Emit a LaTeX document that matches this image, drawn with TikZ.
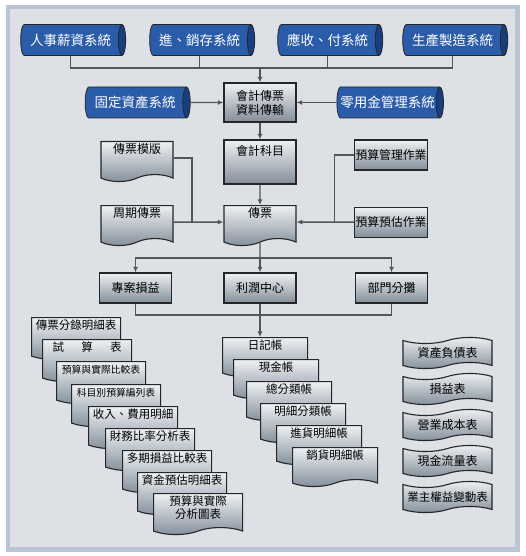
\documentclass[tikz,border=0pt]{standalone}
\usepackage{fontspec}
\setmainfont{Noto Sans CJK TC}
\usepackage{xcolor}
\usepackage{tikz}
\usetikzlibrary{arrows.meta,shapes.geometric,shapes.symbols}

\definecolor{framebg}{HTML}{B9C5D6}
\definecolor{panelbg}{HTML}{DDE0E5}
\definecolor{pillblue}{HTML}{2B5CAA}
\definecolor{pilldark}{HTML}{173E7E}
\definecolor{silverhi}{HTML}{EEF1F4}
\definecolor{silvermid}{HTML}{C3CAD2}
\definecolor{silverlo}{HTML}{838E9A}
\definecolor{linegray}{HTML}{555555}

\begin{document}
\begin{tikzpicture}[x=1pt,y=1pt,
  pill/.style={cylinder, shape border rotate=0, aspect=0.5, draw=black!85, thick,
    cylinder uses custom fill, cylinder body fill=pillblue, cylinder end fill=pilldark,
    minimum width=31pt, minimum height=105pt, inner sep=1pt, text=white,
    font=\fontsize{13.5}{15}\selectfont},
  box/.style={rectangle, draw=black!85, line width=1.1pt, top color=silverhi,
    middle color=silvermid, bottom color=silverlo, minimum width=72pt,
    minimum height=30pt, inner sep=1pt, align=center, font=\fontsize{12}{14}\selectfont},
  doc/.style={tape, tape bend top=none, tape bend height=7pt, draw=black!85,
    line width=1.1pt, top color=silverhi, middle color=silvermid, bottom color=silverlo,
    minimum width=72pt, inner sep=3pt, text height=9pt, text depth=18pt,
    anchor=north, font=\fontsize{12}{14}\selectfont},
  card/.style={doc, minimum width=89pt, anchor=north west, text depth=20pt,
    font=\fontsize{11.5}{13}\selectfont},
  ledger/.style={card, minimum width=85pt, text depth=17pt},
  flag/.style={tape, tape bend height=6pt, draw=black!85, line width=1.1pt,
    top color=silverhi, middle color=silvermid, bottom color=silverlo,
    minimum width=89pt, minimum height=31pt, inner sep=1pt,
    font=\fontsize{12}{14}\selectfont},
  small/.style={font=\fontsize{9.8}{11}\selectfont},
  line/.style={draw=linegray, line width=1.4pt},
  arrow/.style={line, -{Latex[length=2mm,width=1.8mm]}}
]
\useasboundingbox (0,-556) rectangle (525,0);
\fill[framebg] (6,-552) rectangle (520,-5);
\fill[panelbg] (10,-547) rectangle (515,-9);

\node[pill] (hr) at (70.5,-40) {人事薪資系統};
\node[pill] (inv) at (199.5,-40) {進、銷存系統};
\node[pill] (ar) at (327.5,-40) {應收、付系統};
\node[pill] (mfg) at (452.5,-40) {生產製造系統};

\node[box, minimum height=39pt] (xfer) at (260,-102.5) {會計傳票\\資料傳輸};
\node[pill] (fa) at (135,-102.5) {固定資產系統};
\node[pill] (petty) at (387.5,-102.5) {零用金管理系統};

\node[box, minimum height=44pt, text height=9pt, text depth=22pt] (coa) at (260,-162) {會計科目};
\node[doc] (tmpl) at (137,-141) {傳票模版};
\node[box, font=\fontsize{11.8}{13}\selectfont] (bm) at (391,-155) {預算管理作業};
\node[doc] (cyc) at (137,-205) {周期傳票};
\node[doc] (voucher) at (260,-205) {傳票};
\node[box, font=\fontsize{11.8}{13}\selectfont] (be) at (voucher -| bm) {預算預估作業};

\node[box] (proj) at (135.5,-288) {專案損益};
\node[box] (profit) at (260,-288) {利潤中心};
\node[box] (dept) at (391.5,-288) {部門分攤};

\node[card] (r1) at (31,-317) {傳票分錄明細表};
\node[card] (r2) at (42,-339) {試\hspace{1.5em}算\hspace{1.5em}表};
\node[card, small] (r3) at (56,-361) {預算與實際比較表};
\node[card, small] (r4) at (71,-384) {科目別預算編列表};
\node[card] (r5) at (88,-406) {收入、費用明細};
\node[card] (r6) at (105,-428) {財務比率分析表};
\node[card] (r7) at (122,-450) {多期損益比較表};
\node[card] (r8) at (137,-472) {資金預估明細表};
\node[card, align=center, text height=22pt, text depth=6pt] (r9) at (153,-493) {預算與實際\\分析圖表};

\node[ledger] (j1) at (222,-337) {日記帳};
\node[ledger] (j2) at (233,-359) {現金帳};
\node[ledger] (j3) at (246,-381) {總分類帳};
\node[ledger] (j4) at (260,-403) {明細分類帳};
\node[ledger] (j5) at (276,-425) {進貨明細帳};
\node[ledger] (j6) at (292,-447) {銷貨明細帳};

\node[flag] (s1) at (447.5,-353) {資產負債表};
\node[flag] (s2) at (447.5,-389) {損益表};
\node[flag] (s3) at (447.5,-425) {營業成本表};
\node[flag] (s4) at (447.5,-461) {現金流量表};
\node[flag, font=\fontsize{11.5}{13}\selectfont] (s5) at (447.5,-497) {業主權益變動表};

\coordinate (bus1) at (260,-68);
\draw[line] (hr.south) |- (bus1);
\draw[line] (inv.south) |- (bus1);
\draw[line] (ar.south) |- (bus1);
\draw[line] (mfg.south) |- (bus1);
\draw[arrow] (bus1) -- (xfer);
\draw[arrow] (fa) -- (xfer);
\draw[arrow] (petty) -- (xfer);
\draw[arrow] (xfer) -- (coa);
\draw[arrow] (coa) -- (voucher);

\path (cyc) -- (voucher) coordinate[pos=0.37] (jl);
\path (be) -- (voucher) coordinate[pos=0.34] (jr);
\draw[line] (tmpl) -| (jl);
\draw[line] (bm) -| (jr);
\draw[arrow] (cyc) -- (voucher);
\draw[arrow] (be) -- (voucher);

\coordinate (bus2) at (260,-258);
\draw[line] (voucher) -- (bus2);
\draw[arrow] (bus2) -| (proj);
\draw[arrow] (bus2) -| (dept);
\draw[arrow] (bus2) -- (profit);

\coordinate (bus3) at (260,-315);
\draw[line] (proj) |- (bus3);
\draw[line] (dept) |- (bus3);
\draw[line] (profit) -- (bus3);
\draw[arrow] (bus3) -- (bus3 |- j1.north);
\end{tikzpicture}
\end{document}
